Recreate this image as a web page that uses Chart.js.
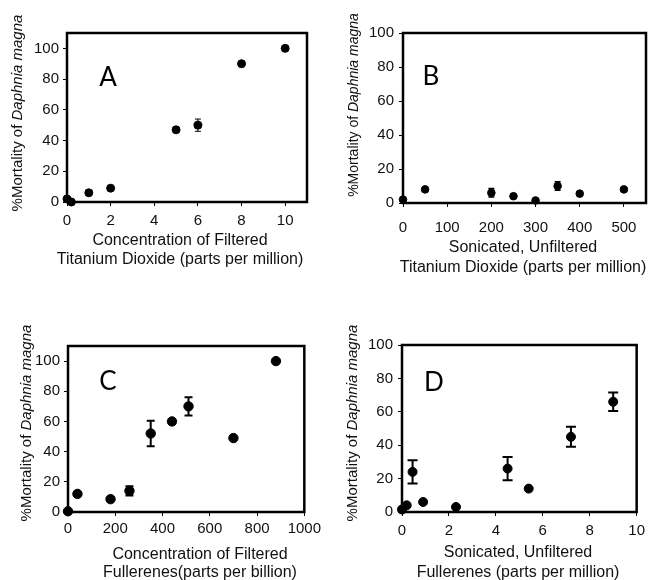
<!DOCTYPE html>
<html>
<head>
<meta charset="utf-8">
<script src="https://cdn.jsdelivr.net/npm/chart.js@4.4.1/dist/chart.umd.min.js"></script>
<style>
  body { margin: 0; background: #fff; }
  #wrap { position: relative; width: 651px; height: 580px; }
  canvas { position: absolute; }
</style>
</head>
<body>
<div id="wrap">
  <canvas id="panelA" width="325" height="290" style="left:0;top:0"></canvas>
  <canvas id="panelB" width="326" height="290" style="left:325px;top:0"></canvas>
  <canvas id="panelC" width="325" height="290" style="left:0;top:290px"></canvas>
  <canvas id="panelD" width="326" height="290" style="left:325px;top:290px"></canvas>
</div>
<script>
// A: filtered TiO2 (ppm)
const aDose = [0, 0.2, 1, 2, 5, 6, 8, 10];
const aMort = [2, 0, 6, 9, 47, 50, 90, 100];
const aErr  = [0, 0, 0, 0, 0, 4, 0, 0];
const aXTicks = [0, 2, 4, 6, 8, 10];
const aYTicks = [0, 20, 40, 60, 80, 100];

// B: sonicated, unfiltered TiO2 (ppm)
const bDose = [0, 50, 200, 250, 300, 350, 400, 500];
const bMort = [2, 8, 6, 4, 1.5, 10, 5.5, 8];
const bErr  = [0, 0, 2.5, 0, 0, 2.5, 0, 0];
const bXTicks = [0, 100, 200, 300, 400, 500];
const bYTicks = [0, 20, 40, 60, 80, 100];

// C: filtered fullerenes (ppb)
const cDose = [0, 40, 180, 260, 350, 440, 510, 700, 880];
const cMort = [0.5, 12, 8.5, 14, 52, 60, 70, 49, 100];
const cErr  = [0, 0, 0, 3, 8.5, 1.5, 6, 0, 0];
const cXTicks = [0, 200, 400, 600, 800, 1000];
const cYTicks = [0, 20, 40, 60, 80, 100];

// D: sonicated, unfiltered fullerenes (ppm)
const dDose = [0, 0.2, 0.45, 0.9, 2.3, 4.5, 5.4, 7.2, 9];
const dMort = [1.5, 4, 24, 6, 3, 26, 14, 45, 66];
const dErr  = [0, 0, 7, 0, 0, 7, 0, 6, 5.5];
const dXTicks = [0, 2, 4, 6, 8, 10];
const dYTicks = [0, 20, 40, 60, 80, 100];

const FONT = '"Liberation Sans", Arial, sans-serif';

// frame, error bars and the free text of each panel
const panelPlugin = {
  id: 'panel',
  beforeDatasetsDraw(chart, args, opts) {
    const ctx = chart.ctx;
    const xs = chart.scales.x, ys = chart.scales.y;
    ctx.save();
    ctx.strokeStyle = '#000';
    ctx.lineWidth = opts.errWidth;
    opts.dose.forEach((d, i) => {
      const e = opts.err[i];
      if (!e) return;
      const x = xs.getPixelForValue(d);
      const y1 = ys.getPixelForValue(opts.mort[i] + e);
      const y2 = ys.getPixelForValue(opts.mort[i] - e);
      ctx.beginPath();
      ctx.moveTo(x, y1); ctx.lineTo(x, y2);
      ctx.moveTo(x - opts.cap, y1); ctx.lineTo(x + opts.cap, y1);
      ctx.moveTo(x - opts.cap, y2); ctx.lineTo(x + opts.cap, y2);
      ctx.stroke();
    });
    ctx.restore();
  },
  afterDraw(chart, args, opts) {
    const ctx = chart.ctx;
    const a = chart.chartArea;
    ctx.save();
    ctx.strokeStyle = '#000';
    ctx.lineWidth = 2.5;
    ctx.strokeRect(a.left, a.top, a.right - a.left, a.bottom - a.top);

    ctx.fillStyle = '#000';
    ctx.textAlign = 'center';
    ctx.textBaseline = 'middle';
    ctx.font = '26px Lato, "Open Sans", sans-serif';
    ctx.fillText(opts.letter, opts.letterPos[0], opts.letterPos[1]);

    ctx.fillStyle = '#111';
    ctx.font = '16px ' + FONT;
    opts.xTitle.forEach((line, i) => {
      ctx.fillText(line, opts.xTitlePos[0], opts.xTitlePos[1] + i * opts.xTitleGap);
    });

    // y title: plain part + italic species name, rotated
    const plain = '%Mortality of ';
    const ital = 'Daphnia magna';
    const fs = opts.yTitleSize;
    ctx.translate(opts.yTitlePos[0], opts.yTitlePos[1]);
    ctx.rotate(-Math.PI / 2);
    ctx.textAlign = 'left';
    ctx.font = fs + 'px ' + FONT;
    const w1 = ctx.measureText(plain).width;
    ctx.font = 'italic ' + fs + 'px ' + FONT;
    const w2 = ctx.measureText(ital).width;
    const x0 = -(w1 + w2) / 2;
    ctx.font = fs + 'px ' + FONT;
    ctx.fillText(plain, x0, 0);
    ctx.font = 'italic ' + fs + 'px ' + FONT;
    ctx.fillText(ital, x0 + w1, 0);
    ctx.restore();
  }
};

function makePanel(id, p) {
  const ctx = document.getElementById(id).getContext('2d');
  const H = ctx.canvas.height;
  return new Chart(ctx, {
    type: 'scatter',
    data: {
      datasets: [{
        data: p.dose.map((d, i) => ({ x: d, y: p.mort[i] })),
        backgroundColor: '#000',
        borderColor: '#000',
        pointRadius: p.radius,
        clip: false
      }]
    },
    plugins: [panelPlugin],
    options: {
      responsive: false,
      animation: false,
      devicePixelRatio: 1,
      layout: { padding: { top: p.top, right: p.padRight, left: 0, bottom: 0 } },
      scales: {
        x: {
          type: 'linear',
          min: 0,
          max: p.xMax,
          afterBuildTicks: s => { s.ticks = p.xTicks.map(v => ({ value: v })); },
          afterFit: s => { s.height = H - p.bottom; },
          border: { display: false },
          grid: { drawOnChartArea: false, tickLength: 4, color: '#000', lineWidth: 1 },
          ticks: {
            color: '#111', font: { family: FONT, size: 15 }, padding: p.xPad, maxRotation: 0,
            callback: v => String(v)
          }
        },
        y: {
          type: 'linear',
          min: 0,
          max: p.yMax,
          afterBuildTicks: s => { s.ticks = p.yTicks.map(v => ({ value: v })); },
          afterFit: s => { s.width = p.left; },
          border: { display: false },
          grid: { drawOnChartArea: false, tickLength: 4, color: '#000', lineWidth: 1 },
          ticks: { color: '#111', font: { family: FONT, size: 15 }, padding: p.yPad, callback: v => String(v) }
        }
      },
      plugins: {
        legend: { display: false },
        tooltip: { enabled: false },
        panel: {
          dose: p.dose, mort: p.mort, err: p.err,
          errWidth: p.errWidth, cap: p.cap,
          letter: p.letter, letterPos: p.letterPos,
          xTitle: p.xTitle, xTitlePos: p.xTitlePos, xTitleGap: p.xTitleGap,
          yTitlePos: p.yTitlePos, yTitleSize: p.yTitleSize
        }
      }
    }
  });
}

makePanel('panelA', {
  dose: aDose, mort: aMort, err: aErr, xTicks: aXTicks, yTicks: aYTicks,
  xMax: 11, yMax: 110, left: 67, top: 33, padRight: 18, bottom: 202,
  xPad: 6, yPad: 4, radius: 4, errWidth: 1, cap: 3,
  letter: 'A', letterPos: [108, 78],
  xTitle: ['Concentration of Filtered', 'Titanium Dioxide (parts per million)'],
  xTitlePos: [180, 241], xTitleGap: 19,
  yTitlePos: [18, 113], yTitleSize: 15
});

makePanel('panelB', {
  dose: bDose, mort: bMort, err: bErr, xTicks: bXTicks, yTicks: bYTicks,
  xMax: 550, yMax: 100, left: 78, top: 33, padRight: 3, bottom: 203,
  xPad: 12, yPad: 5, radius: 3.8, errWidth: 1.5, cap: 3,
  letter: 'B', letterPos: [106, 77],
  xTitle: ['Sonicated, Unfiltered', 'Titanium Dioxide (parts per million)'],
  xTitlePos: [198, 248], xTitleGap: 20,
  yTitlePos: [29, 105], yTitleSize: 14
});

makePanel('panelC', {
  dose: cDose, mort: cMort, err: cErr, xTicks: cXTicks, yTicks: cYTicks,
  xMax: 1000, yMax: 110, left: 68, top: 56, padRight: 18, bottom: 222,
  xPad: 4, yPad: 4, radius: 4.7, errWidth: 2, cap: 4,
  letter: 'C', letterPos: [108, 92],
  xTitle: ['Concentration of Filtered', 'Fullerenes(parts per billion)'],
  xTitlePos: [200, 265], xTitleGap: 18,
  yTitlePos: [27, 133], yTitleSize: 15
});

makePanel('panelD', {
  dose: dDose, mort: dMort, err: dErr, xTicks: dXTicks, yTicks: dYTicks,
  xMax: 10, yMax: 100, left: 77, top: 55, padRight: 11, bottom: 222,
  xPad: 6, yPad: 5, radius: 4.5, errWidth: 2, cap: 5,
  letter: 'D', letterPos: [109, 93],
  xTitle: ['Sonicated, Unfiltered', 'Fullerenes (parts per million)'],
  xTitlePos: [193, 263], xTitleGap: 20,
  yTitlePos: [28, 133], yTitleSize: 15
});
</script>
</body>
</html>
